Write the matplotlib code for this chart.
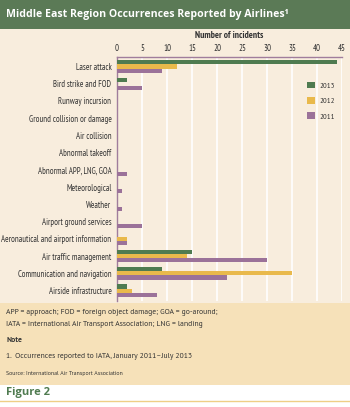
import matplotlib.pyplot as plt
import numpy as np
from matplotlib.patches import Rectangle
from matplotlib.lines import Line2D

plt.rcParams['font.family'] = ['PT Sans Narrow', 'DejaVu Sans']

# Daten (Anzahl Vorfälle)
categories = [
    "Laser attack",
    "Bird strike and FOD",
    "Runway incursion",
    "Ground collision or damage",
    "Air collision",
    "Abnormal takeoff",
    "Abnormal APP, LNG, GOA",
    "Meteorological",
    "Weather",
    "Airport ground services",
    "Aeronautical and airport information",
    "Air traffic management",
    "Communication and navigation",
    "Airside infrastructure",
]
years = ["2013", "2012", "2011"]
v2013 = [44, 2, 0, 0, 0, 0, 0, 0, 0, 0, 0, 15, 9, 2]
v2012 = [12, 0, 0, 0, 0, 0, 0, 0, 0, 0, 2, 14, 35, 3]
v2011 = [9, 5, 0, 0, 0, 0, 2, 1, 1, 5, 2, 30, 22, 8]
x_ticks = [0, 5, 10, 15, 20, 25, 30, 35, 40, 45]

BG = "#f8eddd"
NOTE_BG = "#f6e1b9"
GREEN_HEAD = "#5b7a56"
C_GREEN = "#4f7b50"
C_YELLOW = "#e9b94b"
C_PURPLE = "#9b7299"
AXIS_C = "#a07d9c"
TXT = "#333333"

fig = plt.figure(figsize=(3.5, 4.07), dpi=100)
fig.patch.set_facecolor(BG)

HEAD = ["Open Sans", "DejaVu Sans"]
NOTE = ["PT Sans", "DejaVu Sans"]

# Kopfzeile
fig.add_artist(Rectangle((0, 1 - 29 / 407), 1, 29 / 407, transform=fig.transFigure,
                         facecolor=GREEN_HEAD, edgecolor="none"))
fig.text(0.018, 1 - 15 / 407, "Middle East Region Occurrences Reported by Airlines\u00b9",
         color="white", fontsize=7.6, fontweight="bold", va="center", ha="left",
         family=HEAD)

# Notizbereich
fig.add_artist(Rectangle((0, 1 - 385 / 407), 1, 82 / 407, transform=fig.transFigure,
                         facecolor=NOTE_BG, edgecolor="none"))
fig.add_artist(Rectangle((0, 0), 1, 22 / 407, transform=fig.transFigure,
                         facecolor="white", edgecolor="none"))
fig.add_artist(Line2D([0, 1], [1 - 401 / 407] * 2, transform=fig.transFigure,
                      color="#eecf86", lw=1))

fig.text(0.018, 1 - 313 / 407, "APP = approach; FOD = foreign object damage; GOA = go-around;",
         fontsize=5.5, color=TXT, va="center", family=NOTE)
fig.text(0.018, 1 - 325 / 407, "IATA = International Air Transport Association; LNG = landing",
         fontsize=5.5, color=TXT, va="center", family=NOTE)
fig.text(0.018, 1 - 340 / 407, "Note", fontsize=5.5, fontweight="bold",
         color=TXT, va="center", family=NOTE)
fig.text(0.018, 1 - 357 / 407, "1.  Occurrences reported to IATA, January 2011\u2013July 2013",
         fontsize=5.5, color=TXT, va="center", family=NOTE)
fig.text(0.018, 1 - 373 / 407, "Source: International Air Transport Association",
         fontsize=4.2, color=TXT, va="center", family=NOTE)
fig.text(0.018, 1 - 392 / 407, "Figure 2", fontsize=8, fontweight="bold",
         color="#4f7b50", va="center", family=HEAD)

# Diagramm
ax = fig.add_axes([117 / 350, 1 - 301 / 407, 225 / 350, 244 / 407])
ax.set_facecolor(BG)

y = np.arange(len(categories))
h = 0.24
ax.barh(y - h, v2013, height=h, color=C_GREEN, label=years[0], zorder=3)
ax.barh(y, v2012, height=h, color=C_YELLOW, label=years[1], zorder=3)
ax.barh(y + h, v2011, height=h, color=C_PURPLE, label=years[2], zorder=3)

ax.set_xlim(0, 45)
ax.set_ylim(13.6, -0.55)
ax.set_yticks(y)
ax.set_yticklabels(categories, fontsize=6.2, color=TXT)
ax.set_xticks(x_ticks)
ax.tick_params(axis="x", top=True, bottom=False, labeltop=True, labelbottom=False,
               length=0, labelsize=6.4, pad=3, labelcolor=TXT)
ax.tick_params(axis="y", length=0, pad=4)
ax.xaxis.set_label_position("top")
ax.set_xlabel("Number of incidents", fontsize=6.8, fontweight="bold",
              color=TXT, labelpad=4)

ax.grid(axis="x", color="white", lw=1.2, zorder=0)
for s in ["right", "bottom"]:
    ax.spines[s].set_visible(False)
for s in ["top", "left"]:
    ax.spines[s].set_color(AXIS_C)
    ax.spines[s].set_linewidth(1)

leg = ax.legend(loc="upper right", bbox_to_anchor=(1.0, 0.93), frameon=False,
                fontsize=6, handlelength=0.9, handleheight=0.9,
                labelspacing=0.85, handletextpad=0.5)
for t in leg.get_texts():
    t.set_color(TXT)

fig.savefig("out.png", dpi=100, facecolor=fig.get_facecolor())
